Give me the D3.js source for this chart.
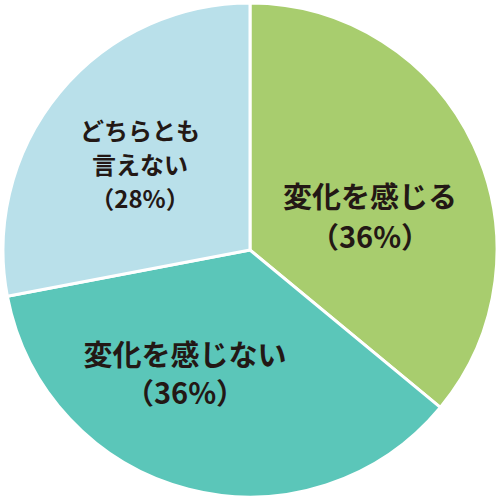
<!DOCTYPE html>
<html>
<head>
<meta charset="utf-8">
<script src="https://cdn.jsdelivr.net/npm/d3@7"></script>
<style>
  body { margin: 0; background: #fff; }
  text { font-family: "Noto Sans CJK JP", sans-serif; font-weight: bold; fill: #231815; }
</style>
</head>
<body>
<svg id="chart" width="500" height="500"></svg>
<script>
// Slice data, clockwise from 12 o'clock.
var labels = [['変化を感じる', '（36%）'], ['変化を感じない', '（36%）'], ['どちらとも', '言えない', '（28%）']];
var values = [36, 36, 28];
var colors = ['#a8cd6e', '#5bc6b9', '#b9e0ea'];

var svg = d3.select('#chart');
var g = svg.append('g').attr('transform', 'translate(250,250)');

var pie = d3.pie().sort(null).value(function(d) { return d; });
var arc = d3.arc().innerRadius(0).outerRadius(247);
var arcs = pie(values);

g.selectAll('path').data(arcs).enter().append('path')
    .attr('d', arc)
    .attr('fill', function(d, i) { return colors[i]; })
    .attr('stroke', '#fff')
    .attr('stroke-width', 3);

// Label anchors and sizes, tuned by eye.
var labelPos = [[120, -42], [-65, 116], [-110, -110]];
var fontSizes = [29, 29, 24];
var lineH = [40, 38, 34];

arcs.forEach(function(d, i) {
  var t = g.append('text')
      .attr('text-anchor', 'middle')
      .attr('font-size', fontSizes[i]);
  labels[i].forEach(function(line, j) {
    t.append('tspan')
        .attr('x', labelPos[i][0])
        .attr('y', labelPos[i][1] + j * lineH[i])
        .text(line);
  });
});
</script>
</body>
</html>
